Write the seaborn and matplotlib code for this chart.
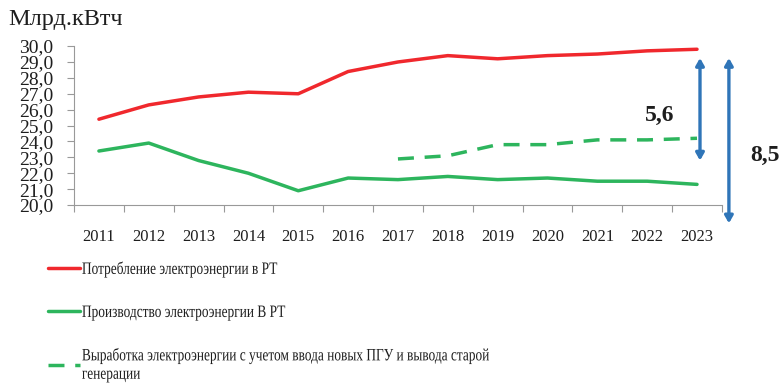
import matplotlib
matplotlib.use("Agg")
import matplotlib.pyplot as plt
from matplotlib.patheffects import AbstractPathEffect
from matplotlib.transforms import Affine2D
import seaborn as sns
import pandas as pd

years = [str(y) for y in range(2011, 2024)]
consumption = [25.4, 26.3, 26.8, 27.1, 27.0, 28.4, 29.0, 29.4, 29.2, 29.4, 29.5, 29.7, 29.8]
production = [23.4, 23.9, 22.8, 22.0, 20.9, 21.7, 21.6, 21.8, 21.6, 21.7, 21.5, 21.5, 21.3]
new_gen_years = [str(y) for y in range(2017, 2024)]
new_generation = [22.9, 23.1, 23.8, 23.8, 24.1, 24.1, 24.2]

labels = [
    "Потребление электроэнергии в РТ",
    "Производство электроэнергии В РТ",
    "Выработка электроэнергии с учетом ввода новых ПГУ и вывода старой\nгенерации",
]
yticks = [20 + i for i in range(11)]


class Condense(AbstractPathEffect):
    """Narrow the glyphs horizontally around each line's origin."""

    def __init__(self, sx):
        super().__init__()
        self.sx = sx

    def draw_path(self, renderer, gc, tpath, affine, rgbFace=None):
        renderer.draw_path(gc, tpath, Affine2D().scale(self.sx, 1.0) + affine, rgbFace)


sns.set_theme(style="white")
plt.rcParams["font.family"] = ["Liberation Serif", "DejaVu Serif"]

RED = "#F0282D"
GREEN = "#2DB55D"
BLUE = "#2F75B8"
TEXT = "#1e1e1e"

fig = plt.figure(figsize=(7.83, 3.84), dpi=100)
ax = fig.add_axes([0.0945, 0.466, 0.8275, 0.414])

df_main = pd.DataFrame({"year": years, "cons": consumption, "prod": production})
df_new = pd.DataFrame({"year": new_gen_years, "val": new_generation})

sns.lineplot(data=df_main, x="year", y="cons", color=RED, lw=2.5, ax=ax, label=labels[0], sort=False)
sns.lineplot(data=df_main, x="year", y="prod", color=GREEN, lw=2.5, ax=ax, label=labels[1], sort=False)
sns.lineplot(data=df_new, x="year", y="val", color=GREEN, lw=2.5, ax=ax, label=labels[2], sort=False)
ax.lines[2].set_dashes([4.6, 3.1])

ax.set_xlim(-0.5, len(years) - 0.5)
ax.set_ylim(20, 30)
ax.set_yticks(yticks)
ax.set_yticklabels([f"{v:.1f}".replace(".", ",") for v in yticks])
ax.set_xlabel("")
ax.set_ylabel("")

# category ticks sit between the years
ax.set_xticks(range(len(years)))
ax.set_xticklabels(years)
ax.set_xticks([i - 0.5 for i in range(len(years) + 1)], minor=True)
ax.tick_params(axis="x", which="major", length=0, labelsize=12, pad=17, labelcolor=TEXT)
ax.tick_params(axis="x", which="minor", length=5, width=0.8, color="#999999", bottom=True, direction="out")
ax.tick_params(axis="y", which="major", length=5, width=0.8, color="#999999", left=True,
               labelsize=14, pad=10, labelcolor=TEXT)

for s in ["top", "right"]:
    ax.spines[s].set_visible(False)
for s in ["left", "bottom"]:
    ax.spines[s].set_color("#999999")
    ax.spines[s].set_linewidth(0.8)

fig.text(0.01, 0.95, "Млрд.кВтч", fontsize=17.5, va="center", ha="left", color=TEXT)

# gap arrows at the last year
last = len(years) - 1
gap_new = consumption[-1] - new_generation[-1]
gap_prod = consumption[-1] - production[-1]

arrow_kw = dict(arrowstyle="<|-|>,head_length=0.35,head_width=0.2", color=BLUE, lw=2.4,
                shrinkA=0, shrinkB=0)
ax.annotate("", xy=(last + 0.06, new_generation[-1] - 1.4), xytext=(last + 0.06, consumption[-1] - 0.55),
            arrowprops=arrow_kw, annotation_clip=False)
ax.annotate("", xy=(last + 0.64, production[-1] - 2.45), xytext=(last + 0.64, consumption[-1] - 0.55),
            arrowprops=arrow_kw, annotation_clip=False)

ax.text(last - 0.74, 25.62, f"{gap_new:.1f}".replace(".", ","), fontsize=17, fontweight="bold",
        ha="center", va="center", color=TEXT, clip_on=False)
ax.text(last + 1.36, 23.1, f"{gap_prod:.1f}".replace(".", ","), fontsize=17, fontweight="bold",
        ha="center", va="center", color=TEXT, clip_on=False)

ax.get_legend().remove()
handles, lbls = ax.get_legend_handles_labels()
leg = fig.legend(handles, lbls, loc="upper left", bbox_to_anchor=(0.041, 0.36), frameon=False,
                 fontsize=12.5, handlelength=1.85, handletextpad=0.12, labelspacing=1.55,
                 labelcolor=TEXT)
for t in leg.get_texts():
    t.set_linespacing(1.2)
    t.set_path_effects([Condense(0.77)])

fig.savefig("out.png", dpi=100)
